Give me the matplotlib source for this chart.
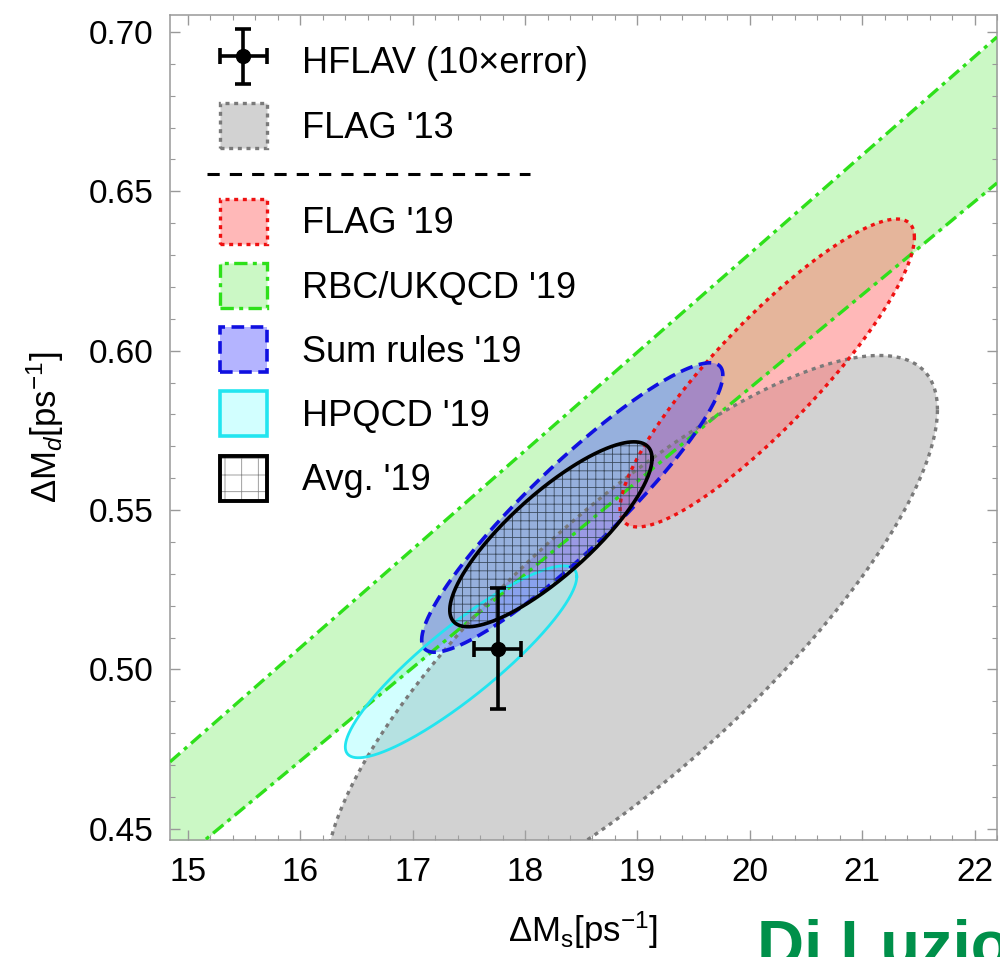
import numpy as np
import matplotlib
matplotlib.use("Agg")
import matplotlib.pyplot as plt
from matplotlib.patches import Patch
from matplotlib.lines import Line2D
from matplotlib.ticker import MultipleLocator, FormatStrFormatter
from matplotlib.container import ErrorbarContainer
from matplotlib.legend_handler import HandlerErrorbar

plt.rcParams['font.family'] = ['Liberation Sans', 'DejaVu Sans']
plt.rcParams['mathtext.fontset'] = 'custom'
plt.rcParams['mathtext.rm'] = 'Liberation Sans'
plt.rcParams['mathtext.it'] = 'Liberation Sans:italic'
plt.rcParams['hatch.linewidth'] = 0.6

# HFLAV measurement (errors already multiplied by 10)
hflav_ms, hflav_md = 17.757, 0.5065
hflav_ms_err, hflav_md_err = 0.21, 0.019

# RBC/UKQCD '19 band: lower/upper edge of DeltaM_d at the two x ends
band_ms = [14.84, 22.2]
band_lower = [0.4374, 0.6526]
band_upper = [0.4710, 0.6984]

# ellipses: centre (ms, md), half-extent in ms, half-extent in md, correlation
names = ["FLAG '13", "FLAG '19", "HPQCD '19", "Sum rules '19", "Avg. '19"]
center_ms = [18.95, 20.155, 17.43, 18.42, 18.23]
center_md = [0.509, 0.593, 0.5024, 0.5508, 0.5424]
half_ms = [2.72, 1.31, 1.03, 1.34, 0.90]
half_md = [0.0895, 0.0483, 0.0301, 0.0454, 0.029]
corr = [0.81, 0.88, 0.887, 0.915, 0.82]


def ellipse(i, n=400):
    t = np.linspace(0, 2 * np.pi, n)
    x = center_ms[i] + half_ms[i] * np.cos(t)
    y = center_md[i] + half_md[i] * (corr[i] * np.cos(t) + np.sqrt(1 - corr[i] ** 2) * np.sin(t))
    return x, y


green_fill = (0.6, 0.95, 0.55, 0.5)
green_edge = '#2ee01a'
gray_fill = (0.65, 0.65, 0.65, 0.5)
gray_edge = '#7a7a7a'
red_fill = (1.0, 0.45, 0.45, 0.5)
red_edge = '#ee1111'
cyan_fill = (0.5, 1.0, 1.0, 0.35)
cyan_edge = '#22e5f0'
blue_fill = (0.3, 0.3, 1.0, 0.42)
blue_edge = '#1010e0'

dot = (0, (1.2, 1.4))
dashdot = (0, (4, 1.6, 1.2, 1.6))
dash = (0, (3.5, 1.8))

fig = plt.figure(figsize=(10, 9.57), dpi=100)
ax = fig.add_axes([0.170, 1 - 840 / 957, 0.827, 825 / 957])

xs = np.array(band_ms)
ax.fill_between(xs, band_lower, band_upper, color=green_fill, lw=0, zorder=1)

x, y = ellipse(0)
ax.fill(x, y, color=gray_fill, lw=0, zorder=2)
x, y = ellipse(1)
ax.fill(x, y, color=red_fill, lw=0, zorder=3)
x, y = ellipse(2)
ax.fill(x, y, color=cyan_fill, lw=0, zorder=4)
x, y = ellipse(3)
ax.fill(x, y, color=blue_fill, lw=0, zorder=5)

# edges on top of the fills
ax.plot(xs, band_lower, color=green_edge, ls=dashdot, lw=2.4, zorder=6)
ax.plot(xs, band_upper, color=green_edge, ls=dashdot, lw=2.4, zorder=6)
x, y = ellipse(0)
ax.plot(x, y, color=gray_edge, ls=dot, lw=2.4, zorder=6)
x, y = ellipse(1)
ax.plot(x, y, color=red_edge, ls=dot, lw=2.4, zorder=6)
x, y = ellipse(2)
ax.plot(x, y, color=cyan_edge, ls='-', lw=2.0, zorder=6)
x, y = ellipse(3)
ax.plot(x, y, color=blue_edge, ls=dash, lw=2.6, zorder=7)
x, y = ellipse(4)
ax.fill(x, y, facecolor='none', edgecolor='#3c4c60', hatch='++', lw=0, zorder=8)
ax.plot(x, y, color='black', ls='-', lw=2.6, zorder=9)

eb = ax.errorbar(hflav_ms, hflav_md, xerr=hflav_ms_err, yerr=hflav_md_err,
                 fmt='o', color='black', ms=10, elinewidth=2.6, capsize=6,
                 capthick=2.6, zorder=10)

ax.set_xlim(14.84, 22.2)
ax.set_ylim(0.4465, 0.7053)
ax.xaxis.set_major_locator(MultipleLocator(1))
ax.xaxis.set_minor_locator(MultipleLocator(0.2))
ax.yaxis.set_major_locator(MultipleLocator(0.05))
ax.yaxis.set_minor_locator(MultipleLocator(0.01))
ax.yaxis.set_major_formatter(FormatStrFormatter('%.2f'))
ax.tick_params(which='both', direction='in', top=True, right=True,
               color='#999999', labelsize=24)
ax.tick_params(which='major', length=7, width=1.0)
ax.tick_params(which='minor', length=3.5, width=0.8)
ax.tick_params(axis='x', pad=12)
ax.tick_params(axis='y', pad=12)
for s in ax.spines.values():
    s.set_color('#999999')
    s.set_linewidth(1.1)

ax.set_xlabel(r'$\Delta\mathrm{M}_\mathrm{s}[\mathrm{ps}^{-1}]$', fontsize=25, labelpad=16)
ax.set_ylabel(r'$\Delta\mathrm{M}_d[\mathrm{ps}^{-1}]$', fontsize=25, labelpad=16)

# legend, split in two blocks with a dashed line between
fs = 26
leg_kw = dict(loc='upper left', frameon=False, fontsize=fs, borderpad=0,
              borderaxespad=0, handlelength=1.30, handleheight=1.54,
              handletextpad=0.97, labelspacing=0.53,
              handler_map={ErrorbarContainer: HandlerErrorbar(xerr_size=0.66, yerr_size=0.76)})
h_flag13 = Patch(facecolor=gray_fill, edgecolor=gray_edge, linestyle=dot, lw=2.4)
leg1 = ax.legend([eb, h_flag13], ['HFLAV (10\u00d7error)', "FLAG '13"],
                 bbox_to_anchor=((220 - 170) / 827, (840 - 39) / 825), **leg_kw)
ax.add_artist(leg1)

h_flag19 = Patch(facecolor=red_fill, edgecolor=red_edge, linestyle=dot, lw=2.4)
h_rbc = Patch(facecolor=green_fill, edgecolor=green_edge, linestyle=dashdot, lw=2.4)
h_sum = Patch(facecolor=blue_fill, edgecolor=blue_edge, linestyle=dash, lw=2.6)
h_hpqcd = Patch(facecolor=cyan_fill, edgecolor=cyan_edge, lw=2.6)
h_avg = (Patch(facecolor='white', edgecolor='#909090', hatch='+', lw=0),
         Patch(facecolor='none', edgecolor='black', lw=2.8))
ax.legend([h_flag19, h_rbc, h_sum, h_hpqcd, h_avg],
          ["FLAG '19", "RBC/UKQCD '19", "Sum rules '19", "HPQCD '19", "Avg. '19"],
          bbox_to_anchor=((220 - 170) / 827, (840 - 199) / 825), **leg_kw)

fig.add_artist(Line2D([0.207, 0.530], [1 - 174 / 957] * 2, color='black',
                      ls=(0, (4, 3.3)), lw=2.2))

fig.text(0.757, (957 - 965) / 957, 'Di Luzio', fontsize=47, weight='bold',
         color='#00904a', va='baseline')

fig.savefig('out.png', dpi=100)
